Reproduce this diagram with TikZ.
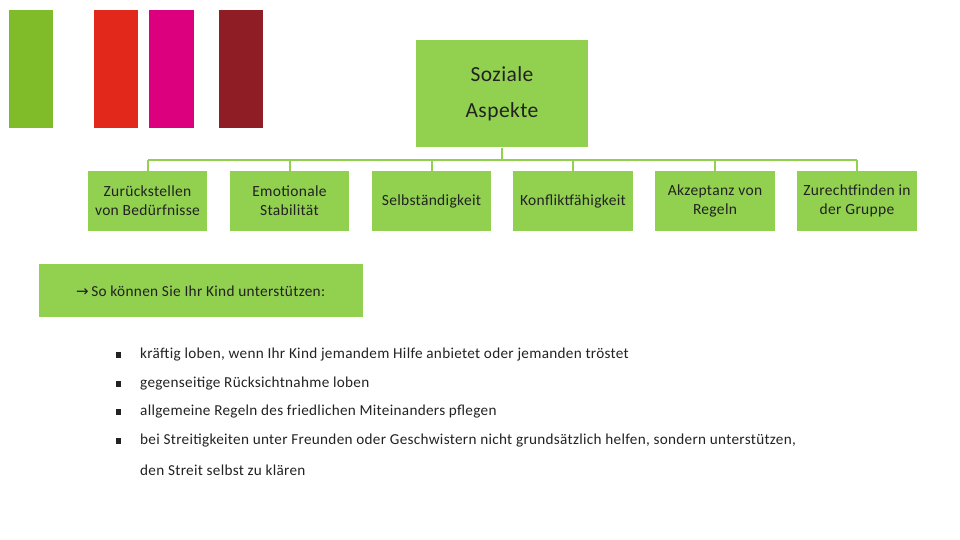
\documentclass[tikz,border=0pt]{standalone}
\usepackage{fontspec}
\setmainfont{Carlito}[LetterSpace=2]
\newfontfamily\symfont{DejaVu Sans}
\definecolor{offgreen}{HTML}{92D050}
\definecolor{barGreen}{HTML}{80BC2A}
\definecolor{barRed}{HTML}{E2271B}
\definecolor{barMag}{HTML}{DC007F}
\definecolor{barDark}{HTML}{8F1D26}
\definecolor{txt}{HTML}{222222}
\begin{document}
\begin{tikzpicture}[x=1pt,y=-1pt,
  gbox/.style={fill=offgreen,draw=none,inner sep=0pt,align=center,text=txt,font=\fontsize{15.5}{19}\selectfont},
  conn/.style={draw=offgreen,line width=2pt},
  bul/.style={anchor=west,text=txt,font=\fontsize{15.2}{18}\selectfont,inner sep=0pt}]
\useasboundingbox (0,0) rectangle (960,540);
% colour bars
\fill[barGreen] (9,10) rectangle (53,128);
\fill[barRed] (94,10) rectangle (138,128);
\fill[barMag] (149,10) rectangle (194,128);
\fill[barDark] (219,10) rectangle (263,128);
% top box
\node[gbox,minimum width=172pt,minimum height=107pt,font=\fontsize{21.5}{36}\selectfont] (top) at (502,94) {Soziale\\Aspekte};
% children
\foreach \n/\x/\t in {c1/147.5/{Zurückstellen\\von Bedürfnisse},c2/289.5/{Emotionale\\Stabilität},c3/431.5/{Selbständigkeit},c4/573/{Konfliktfähigkeit},c5/715/{Akzeptanz von\\Regeln},c6/857/{Zurechtfinden in\\der Gruppe}}{
  \node[gbox,minimum width=119.5pt,minimum height=60pt] (\n) at (\x,201) {\t};
}
\coordinate (hl) at (147.5,160);
\coordinate (hr) at (857,160);
\coordinate (hm) at (502,160);
\draw[conn] (top.south) -- (hm);
\draw[conn] (hl) -- (hr);
\foreach \n in {c1,c2,c3,c4,c5,c6}{\draw[conn] (\n.north) -- (\n.north |- hm);}
% support box
\node[gbox,minimum width=324pt,minimum height=53pt,anchor=north west] (sup) at (39,264) {};
\node[bul,font=\fontsize{15.3}{18}\selectfont] (suptext) at (76,291) {{\symfont\fontsize{15}{18}\selectfont →}\,So können Sie Ihr Kind unterstützen:};
% bullets
\foreach \y/\t in {355/{kräftig loben, wenn Ihr Kind jemandem Hilfe anbietet oder jemanden tröstet},384/{gegenseitige Rücksichtnahme loben},412/{allgemeine Regeln des friedlichen Miteinanders pflegen},441/{bei Streitigkeiten unter Freunden oder Geschwistern nicht grundsätzlich helfen, sondern unterstützen,}}{
  \fill[txt] (115.5,\y-3) rectangle (121,\y+2.5);
  \node[bul] at (140,\y) {\t};
}
\node[bul] (last) at (140,470) {den Streit selbst zu klären};
\end{tikzpicture}
\end{document}
